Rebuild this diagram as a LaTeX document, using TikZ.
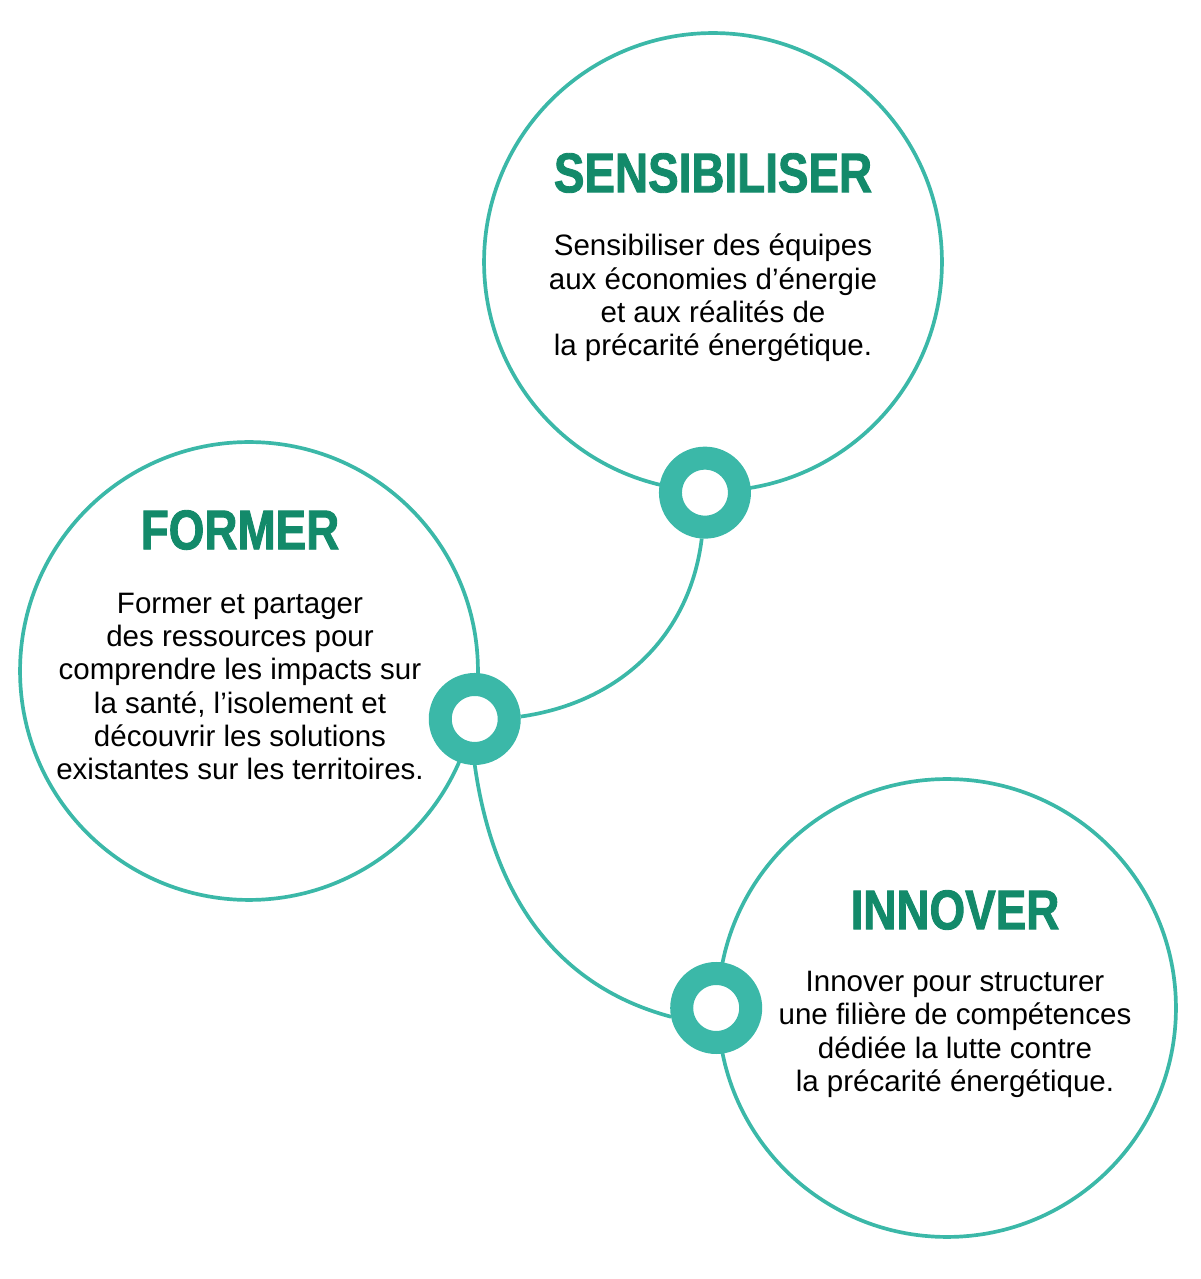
\documentclass[tikz,border=0pt]{standalone}
\usepackage{fontspec}
\setmainfont{Liberation Sans}
\newfontfamily\titlefont[FakeStretch=0.82,FakeBold=1.6]{Liberation Sans}
\usetikzlibrary{positioning}
\definecolor{ringteal}{HTML}{3BB8A8}
\definecolor{titlegreen}{HTML}{138A6A}
\begin{document}
\begin{tikzpicture}[x=0.02cm ,y=0.02cm ,on grid ,
bubble/.style ={circle ,draw=ringteal ,line width=2.1pt ,inner sep=0pt ,minimum size=9.16cm},
ring/.style ={circle ,draw=ringteal ,fill=white ,line width=0.46cm ,inner sep=0pt ,outer sep=0.23cm ,minimum size=1.38cm},
title/.style ={text=titlegreen ,inner sep=0pt ,font=\titlefont\bfseries\fontsize{31.8}{32}\selectfont},
body/.style ={align=center ,inner sep=0pt ,font=\fontsize{16.8}{18.95}\selectfont},
link/.style ={draw=ringteal ,line width=2.1pt}]
\useasboundingbox (0,0) rectangle (1201,1279);
\node[bubble] (S) at (713,1017) {};
\node[bubble] (F) at (249,608) {};
\node[bubble] (I) at (947,271) {};
\node[title] (tS) [above=1.78cm of S] {SENSIBILISER};
\node[body] (bS) [below=0.72cm of S] {Sensibiliser des équipes\\aux économies d’énergie\\et aux réalités de\\la précarité énergétique.};
\node[title] (tF) [above left=2.82cm and 0.18cm of F] {FORMER};
\node[body] (bF) [below left=0.31cm and 0.18cm of F] {Former et partager\\des ressources pour\\comprendre les impacts sur\\la santé, l’isolement et\\découvrir les solutions\\existantes sur les territoires.};
\node[title] (tI) [above right=1.96cm and 0.16cm of I] {INNOVER};
\node[body] (bI) [below right=0.53cm and 0.16cm of I] {Innover pour structurer\\une filière de compétences\\dédiée la lutte contre\\la précarité énergétique.};
\node[ring] (rS) at (S.-92) {};
\node[ring] (rF) at (F.-12) {};
\node[ring] (rI) at (I.west) {};
\draw[link] (rS.-94) to[out=-97,in=8] (rF.3);
\draw[link] (rF.-90) to[out=-82,in=165] (rI.191);
\end{tikzpicture}
\end{document}
